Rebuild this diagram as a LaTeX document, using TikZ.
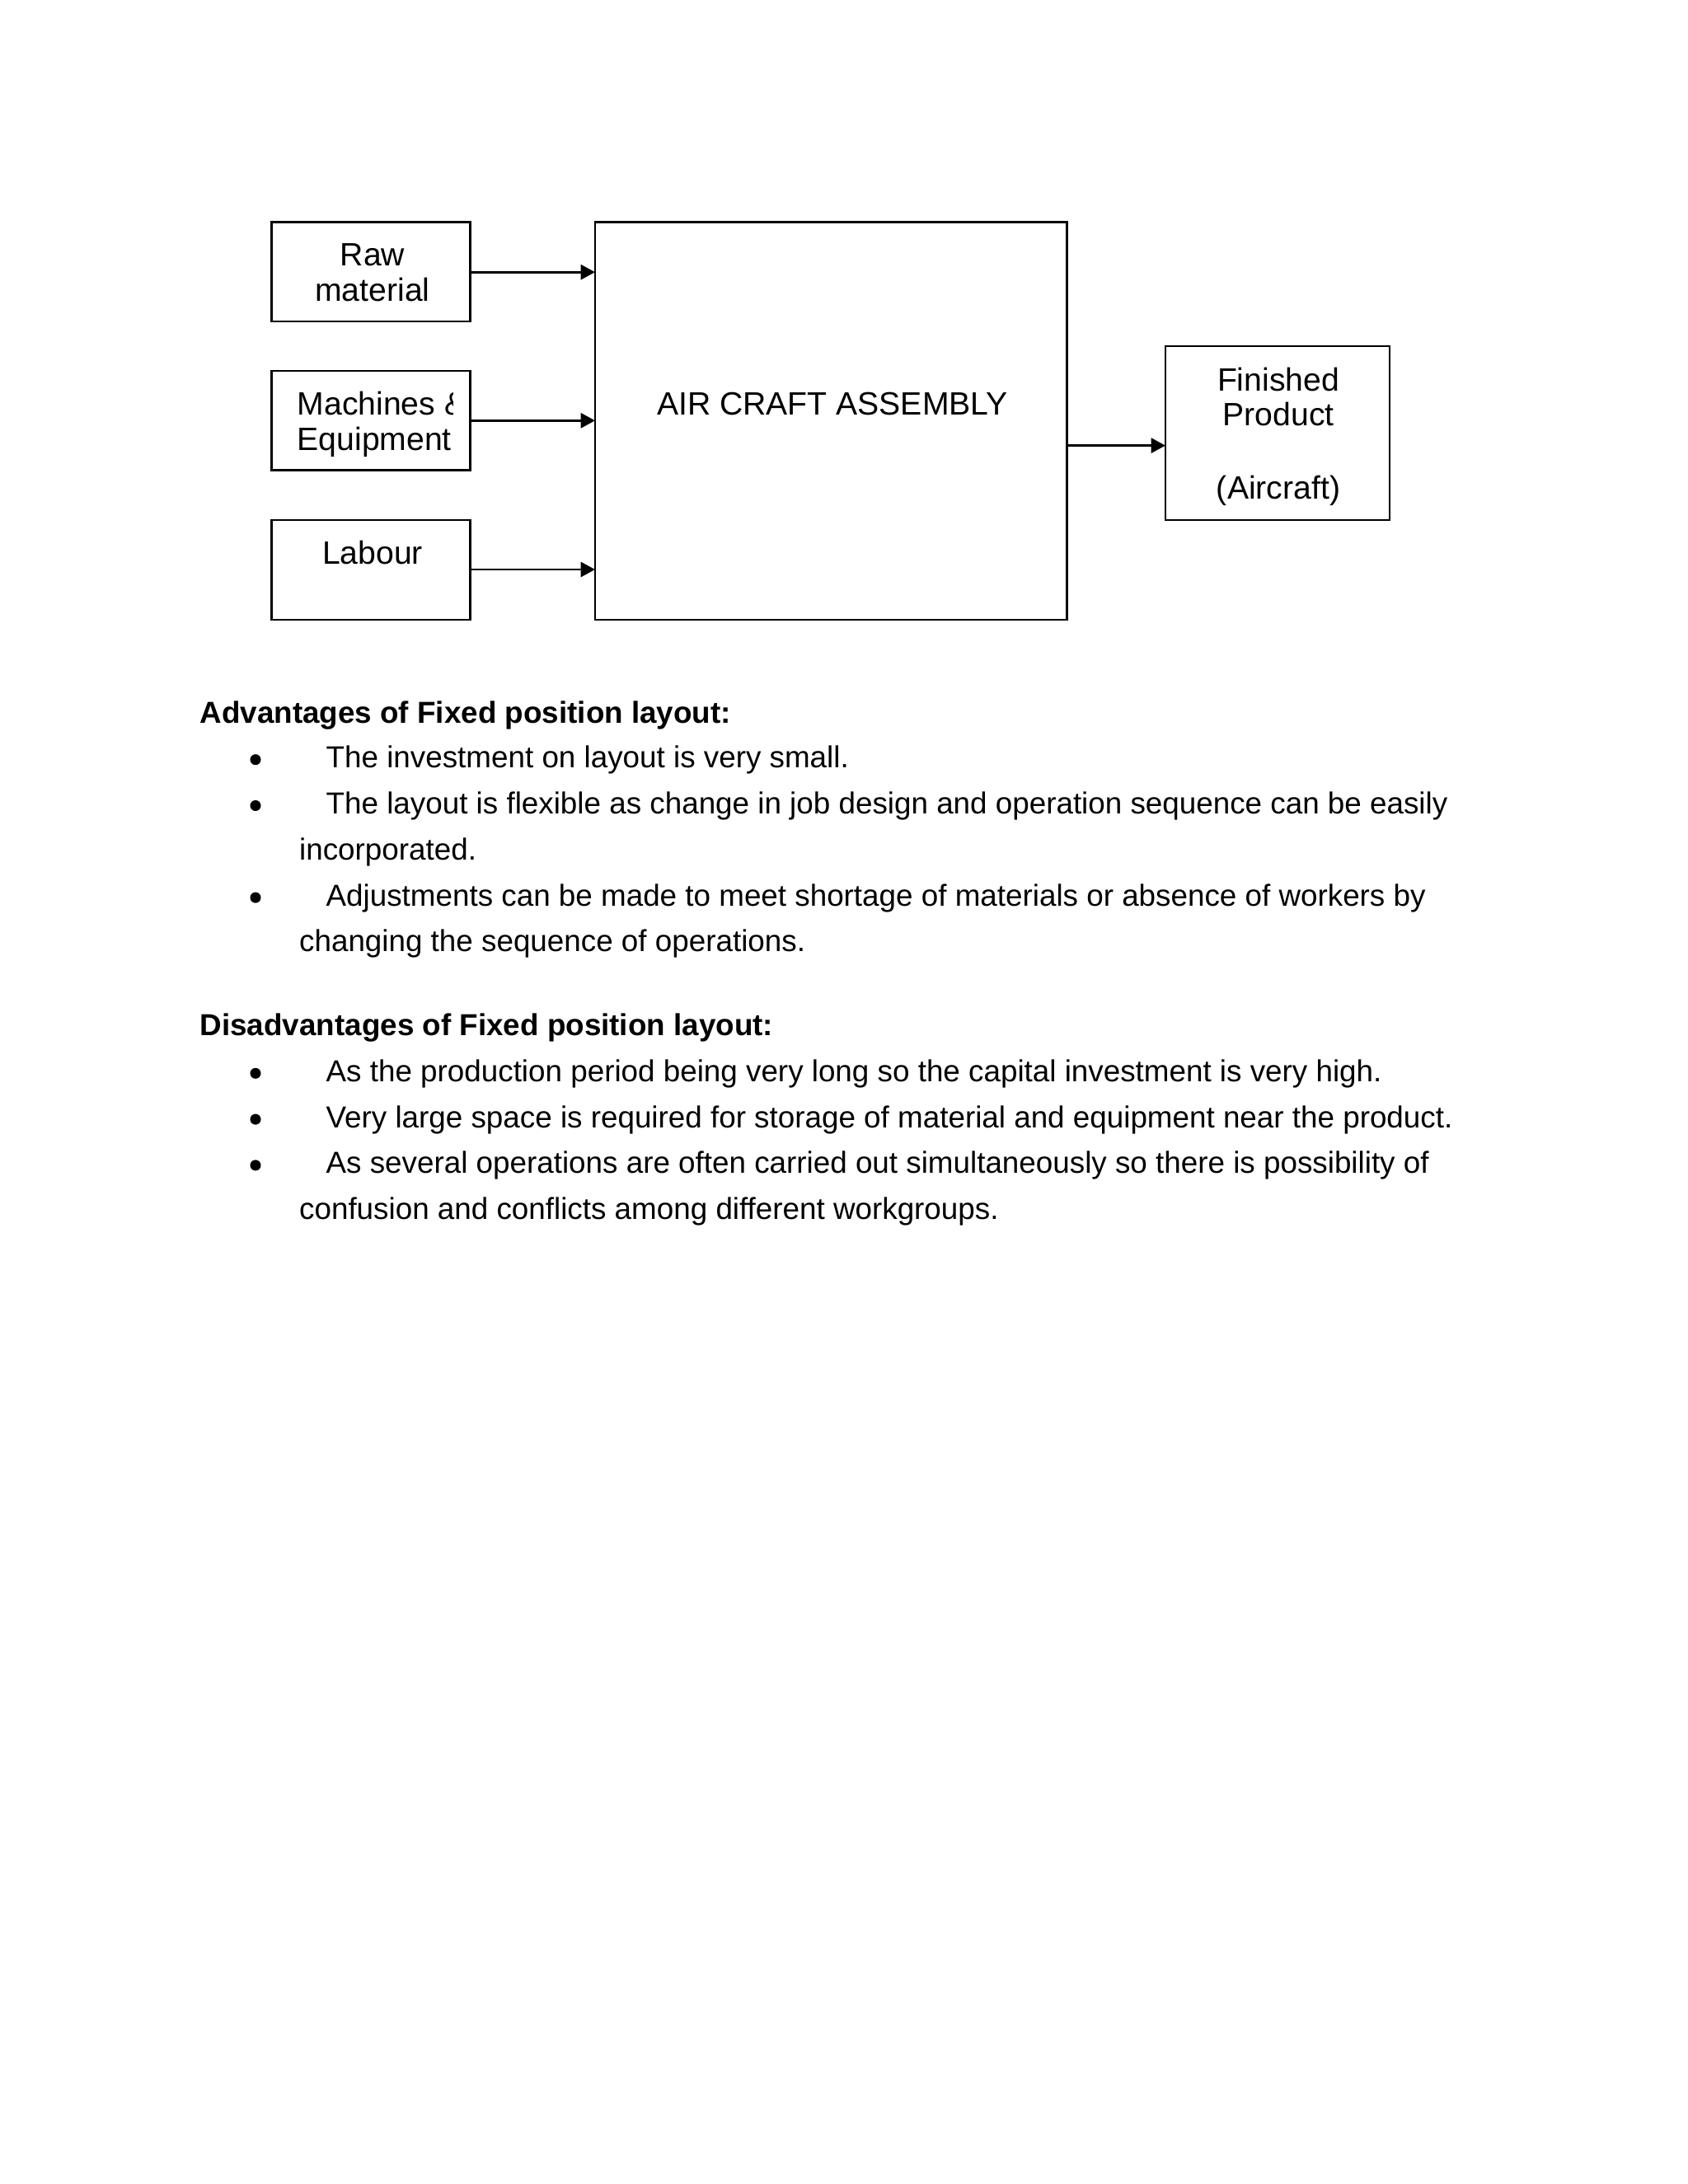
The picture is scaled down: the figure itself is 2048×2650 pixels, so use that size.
\documentclass[tikz,border=0pt]{standalone}
\usepackage{fontspec}
\setmainfont{Liberation Sans}
\usetikzlibrary{arrows.meta}
\begin{document}
\begin{tikzpicture}[x=0.298828pt,y=-0.298828pt,
  box/.style={draw,line width=0.85pt},
  conn/.style={line width=0.85pt,-{Triangle[length=5.2pt,width=5.4pt]}},
  boxtext/.style={font=\fontsize{11.7}{12.85}\selectfont,inner sep=0pt,anchor=base},
  bodytext/.style={font=\fontsize{11}{13}\selectfont,inner sep=0pt,anchor=base west},
  headtext/.style={font=\fontsize{11}{13}\bfseries\selectfont,inner sep=0pt,anchor=base west},
  bul/.style={circle,fill=black,inner sep=0pt,minimum size=3.9pt}]
\useasboundingbox[fill=white] (0,0) rectangle (2048,2650);
% boxes
\draw[box] (329.5,269.5) rectangle (570.5,390) node[pos=0.5,inner sep=0pt] (raw) {};
\draw[box] (329.5,450) rectangle (570.5,570.5);
\draw[box] (329.5,631) rectangle (570.5,752);
\draw[box] (722,269.5) rectangle (1294.5,752);
\draw[box] (1414,420) rectangle (1686,631);
\coordinate (rawR) at (570.5,330.2);
\coordinate (macR) at (570.5,510.3);
\coordinate (labR) at (570.5,691);
\coordinate (asmA) at (722,330.2);
\coordinate (asmB) at (722,510.3);
\coordinate (asmC) at (722,691);
\coordinate (asmR) at (1294.5,540.6);
\coordinate (finL) at (1414,540.6);
\draw[conn] (rawR) -- (asmA);
\draw[conn] (macR) -- (asmB);
\draw[conn] (labR) -- (asmC);
\draw[conn] (asmR) -- (finL);
% box texts
\node[boxtext] (t1) at (452,322.6) {Raw};
\node[boxtext] (t2) at (452,365.7) {material};
\begin{scope}
\clip (330,440) rectangle (549,580);
\node[boxtext,anchor=base west] (t3) at (360,503.4) {Machines \&};
\end{scope}
\node[boxtext,anchor=base west] (t4) at (360,546.5) {Equipment};
\node[boxtext] (t5) at (452,684.2) {Labour};
\node[boxtext] (t6) at (1010,503.4) {AIR CRAFT ASSEMBLY};
\node[boxtext] (t7) at (1551,474) {Finished};
\node[boxtext] (t8) at (1551,516.5) {Product};
\node[boxtext] (t9) at (1551,605) {(Aircraft)};
% text
\node[headtext] (h1) at (242,877.7) {Advantages of Fixed position layout:};
\node[bul] (b1) at (310,921.7) {};
\node[bodytext] (l1) at (395,931.7) {The investment on layout is very small.};
\node[bul] (b2) at (310,977.5) {};
\node[bodytext] (l2) at (395,987.5) {The layout is flexible as change in job design and operation sequence can be easily};
\node[bodytext] (l3) at (362.5,1043.3) {incorporated.};
\node[bul] (b3) at (310,1089.1) {};
\node[bodytext] (l4) at (395,1099.1) {Adjustments can be made to meet shortage of materials or absence of workers by};
\node[bodytext] (l5) at (362.5,1154.9) {changing the sequence of operations.};
\node[headtext] (h2) at (242,1256.7) {Disadvantages of Fixed position layout:};
\node[bul] (b4) at (310,1302.3) {};
\node[bodytext] (l6) at (395,1312.3) {As the production period being very long so the capital investment is very high.};
\node[bul] (b5) at (310,1358.1) {};
\node[bodytext] (l7) at (395,1368.1) {Very large space is required for storage of material and equipment near the product.};
\node[bul] (b6) at (310,1413.9) {};
\node[bodytext] (l8) at (395,1423.9) {As several operations are often carried out simultaneously so there is possibility of};
\node[bodytext] (l9) at (362.5,1479.7) {confusion and conflicts among different workgroups.};
\end{tikzpicture}
\end{document}
